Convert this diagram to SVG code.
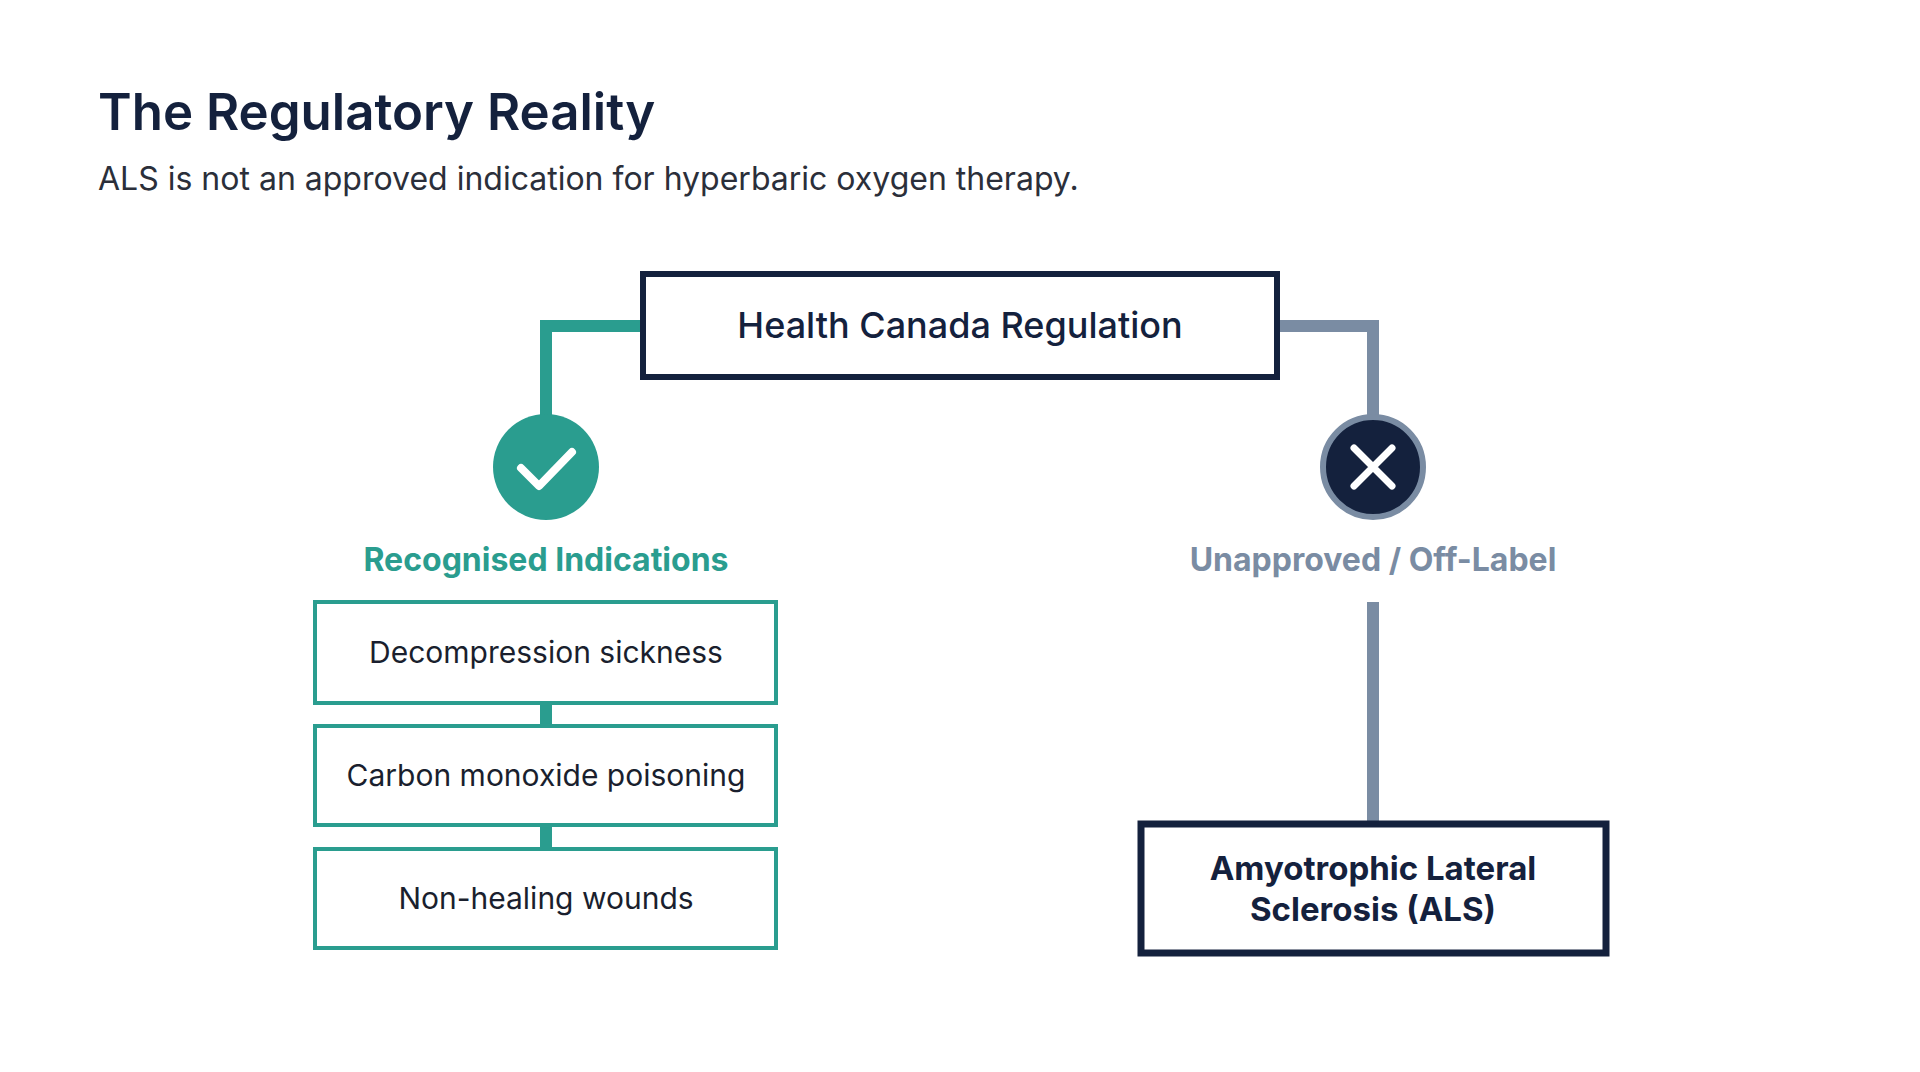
<svg xmlns="http://www.w3.org/2000/svg" width="1920" height="1072" viewBox="0 0 1920 1072">
<style>
text{font-family:Inter,"Liberation Sans",sans-serif;}
.box{fill:#fff;stroke:#2a9d8f;stroke-width:4}
.item{font-size:30px;fill:#1a1f2e;text-anchor:middle}
</style>
<rect width="1920" height="1072" fill="#fff"/>
<text x="98" y="130" font-size="51" font-weight="600" fill="#14213d">The Regulatory Reality</text>
<text x="98" y="190" font-size="32" fill="#2b2f3a">ALS is not an approved indication for hyperbaric oxygen therapy.</text>
<g id="connectors" fill="none" stroke-width="12">
<polyline points="643,326 546,326 546,420" stroke="#2a9d8f"/>
<polyline points="1277,326 1373,326 1373,420" stroke="#7a8ca3"/>
<line x1="546" y1="703" x2="546" y2="726" stroke="#2a9d8f"/>
<line x1="546" y1="825" x2="546" y2="849" stroke="#2a9d8f"/>
<line x1="1373" y1="602" x2="1373" y2="823" stroke="#7a8ca3"/>
</g>
<g id="top">
<rect x="643" y="274" width="634" height="103" fill="#fff" stroke="#14213d" stroke-width="6"/>
<text x="960" y="338" font-size="36" font-weight="500" fill="#14213d" text-anchor="middle">Health Canada Regulation</text>
</g>
<g id="check">
<circle cx="546" cy="467" r="53" fill="#2a9d8f"/>
<polyline points="521,468 539,486 572,452" fill="none" stroke="#fff" stroke-width="8" stroke-linecap="round" stroke-linejoin="round"/>
<text x="546" y="571" font-size="32" font-weight="700" fill="#2a9d8f" text-anchor="middle">Recognised Indications</text>
</g>
<g id="cross">
<circle cx="1373" cy="467" r="50" fill="#14213d" stroke="#7a8ca3" stroke-width="6"/>
<path d="M1354,448 L1392,486 M1392,448 L1354,486" stroke="#fff" stroke-width="7" stroke-linecap="round"/>
<text x="1373" y="571" font-size="32" font-weight="700" fill="#7a8ca3" text-anchor="middle">Unapproved / Off-Label</text>
</g>
<g id="n1"><rect class="box" x="315" y="602" width="461" height="101"/><text class="item" x="546" y="663">Decompression sickness</text></g>
<g id="n2"><rect class="box" x="315" y="726" width="461" height="99"/><text class="item" x="546" y="786">Carbon monoxide poisoning</text></g>
<g id="n3"><rect class="box" x="315" y="849" width="461" height="99"/><text class="item" x="546" y="909">Non-healing wounds</text></g>
<g id="als">
<rect x="1141" y="824" width="465" height="129" fill="#fff" stroke="#14213d" stroke-width="7"/>
<text x="1373" y="880" font-size="33" font-weight="700" fill="#14213d" text-anchor="middle">Amyotrophic Lateral</text>
<text x="1373" y="921" font-size="33" font-weight="700" fill="#14213d" text-anchor="middle">Sclerosis (ALS)</text>
</g>
</svg>
